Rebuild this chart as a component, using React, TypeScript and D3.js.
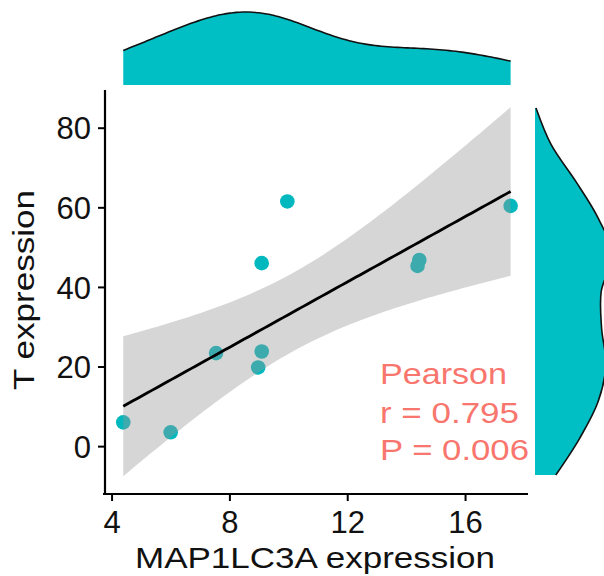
import React from "react";
import * as d3 from "d3";

// ---- data ----
const mapExpr = [4.38, 5.99, 7.53, 9.08, 8.96, 9.08, 9.95, 14.43, 14.37, 17.53];
const tExpr = [6.1, 3.6, 23.5, 23.9, 19.9, 46.1, 61.6, 46.9, 45.4, 60.5];
const xTicks = [4, 8, 12, 16];
const yTicks = [0, 20, 40, 60, 80];
// marginal density of T expression as drawn (relative width), at these T values
const tDensityAt = [61.6, 55.8, 50.0, 44.2, 38.4, 32.6, 26.8, 21.0, 15.2, 9.4, 3.6];
const tDensity = [0.013, 0.21, 0.53, 0.82, 1.0, 0.86, 0.865, 0.92, 0.82, 0.58, 0.27];
const statLines = ["Pearson", "r = 0.795", "P = 0.006"];
const xTitle = "MAP1LC3A expression";
const yTitle = "T expression";

const W = 604;
const H = 576;
const FONT = "'Liberation Sans', Arial, sans-serif";
const TEAL = "#00BFC4";
const RED = "#F8766D";
const T_CRIT = 2.306; // t(0.975, df = 8)

export default function App() {
  const x = d3.scaleLinear().domain([3.76, 18.12]).range([105, 528]);
  const y = d3.scaleLinear().domain([-11.9, 89.6]).range([494, 90]);

  const n = mapExpr.length;
  const mx = d3.mean(mapExpr) as number;
  const my = d3.mean(tExpr) as number;
  let sxx = 0, sxy = 0;
  for (let i = 0; i < n; i++) {
    sxx += (mapExpr[i] - mx) ** 2;
    sxy += (mapExpr[i] - mx) * (tExpr[i] - my);
  }
  const slope = sxy / sxx;
  const icpt = my - slope * mx;
  let sse = 0;
  for (let i = 0; i < n; i++) sse += (tExpr[i] - (icpt + slope * mapExpr[i])) ** 2;
  const s = Math.sqrt(sse / (n - 2));
  const [xmin, xmax] = d3.extent(mapExpr) as [number, number];
  const grid = d3.range(81).map((i) => xmin + ((xmax - xmin) * i) / 80);
  const band = grid.map((g) => {
    const fit = icpt + slope * g;
    const se = s * Math.sqrt(1 / n + (g - mx) ** 2 / sxx);
    return { g, fit, lo: fit - T_CRIT * se, hi: fit + T_CRIT * se };
  });
  const bandArea = d3
    .area<any>()
    .x((d) => x(d.g))
    .y0((d) => y(d.lo))
    .y1((d) => y(d.hi));
  const fitLine = d3
    .line<any>()
    .x((d) => x(d.g))
    .y((d) => y(d.fit));

  // top marginal KDE (nrd0 bandwidth)
  const sorted = [...mapExpr].sort((a, b) => a - b);
  const sd = d3.deviation(mapExpr) as number;
  const iqr = (d3.quantileSorted(sorted, 0.75) as number) - (d3.quantileSorted(sorted, 0.25) as number);
  const bw = 0.9 * Math.min(sd, iqr / 1.34) * Math.pow(n, -0.2);
  const kgrid = d3.range(121).map((i) => xmin + ((xmax - xmin) * i) / 120);
  const dens = kgrid.map((g) => ({
    g,
    d: d3.mean(mapExpr, (v) => Math.exp(-0.5 * ((g - v) / bw) ** 2)) as number,
  }));
  const dmax = d3.max(dens, (d) => d.d) as number;
  const topY = d3.scaleLinear().domain([0, dmax]).range([85, 12]);
  const topArea = d3
    .area<any>()
    .x((d) => x(d.g))
    .y0(85)
    .y1((d) => topY(d.d))
    .curve(d3.curveBasis);
  const topLine = d3
    .line<any>()
    .x((d) => x(d.g))
    .y((d) => topY(d.d))
    .curve(d3.curveBasis);

  // right marginal
  const rt = tDensityAt.map((t, i) => ({ t, d: tDensity[i] }));
  const rY = d3.scaleLinear().domain([3.6, 61.6]).range([475, 108]);
  const rX = d3.scaleLinear().domain([0, 1]).range([535, 612]);
  const rightArea = d3
    .area<any>()
    .y((d) => rY(d.t))
    .x0(535)
    .x1((d) => rX(d.d))
    .curve(d3.curveCatmullRom);
  const rightLine = d3
    .line<any>()
    .y((d) => rY(d.t))
    .x((d) => rX(d.d))
    .curve(d3.curveCatmullRom);

  const statBase = [384, 423, 460];
  const statLen = [127, 139, 149];

  return (
    <svg
      width={W}
      height={H}
      style={{ position: "absolute", left: 0, top: 0, background: "#fff" }}
      fontFamily={FONT}
    >
      <rect width={W} height={H} fill="#fff" />
      {/* marginals */}
      <path d={topArea(dens) as string} fill={TEAL} />
      <path d={topLine(dens) as string} fill="none" stroke="#111" strokeWidth={1.6} />
      <path d={rightArea(rt) as string} fill={TEAL} />
      <path d={rightLine(rt) as string} fill="none" stroke="#111" strokeWidth={1.6} />

      {/* points */}
      {mapExpr.map((v, i) => (
        <circle key={i} cx={x(v)} cy={y(tExpr[i])} r={7.3} fill="#00B8BD" />
      ))}
      {/* confidence band and fit */}
      <path d={bandArea(band) as string} fill="rgb(153,153,153)" fillOpacity={0.4} />
      <path d={fitLine(band) as string} fill="none" stroke="#000" strokeWidth={2.8} />

      {/* axes */}
      <line x1={103} x2={528} y1={494} y2={494} stroke="#000" strokeWidth={2.2} />
      <line x1={105} x2={105} y1={90} y2={495} stroke="#000" strokeWidth={2.2} />
      {xTicks.map((t) => (
        <g key={t}>
          <line x1={x(t)} x2={x(t)} y1={494} y2={501} stroke="#000" strokeWidth={2} />
          <text x={x(t)} y={533} textAnchor="middle" fontSize={31} fill="#111">
            {t}
          </text>
        </g>
      ))}
      {yTicks.map((t) => (
        <g key={t}>
          <line x1={98} x2={105} y1={y(t)} y2={y(t)} stroke="#000" strokeWidth={2} />
          <text x={91} y={y(t)} dy="0.36em" textAnchor="end" fontSize={31} fill="#111">
            {t}
          </text>
        </g>
      ))}
      <text
        x={315}
        y={568}
        textAnchor="middle"
        fontSize={30}
        fill="#111"
        textLength={360}
        lengthAdjust="spacingAndGlyphs"
      >
        {xTitle}
      </text>
      <text
        transform="translate(34,290) rotate(-90)"
        textAnchor="middle"
        fontSize={29}
        fill="#111"
        textLength={200}
        lengthAdjust="spacingAndGlyphs"
      >
        {yTitle}
      </text>

      {statLines.map((s, i) => (
        <text
          key={s}
          x={380}
          y={statBase[i]}
          fontSize={29}
          fill={RED}
          textLength={statLen[i]}
          lengthAdjust="spacingAndGlyphs"
        >
          {s}
        </text>
      ))}
    </svg>
  );
}
